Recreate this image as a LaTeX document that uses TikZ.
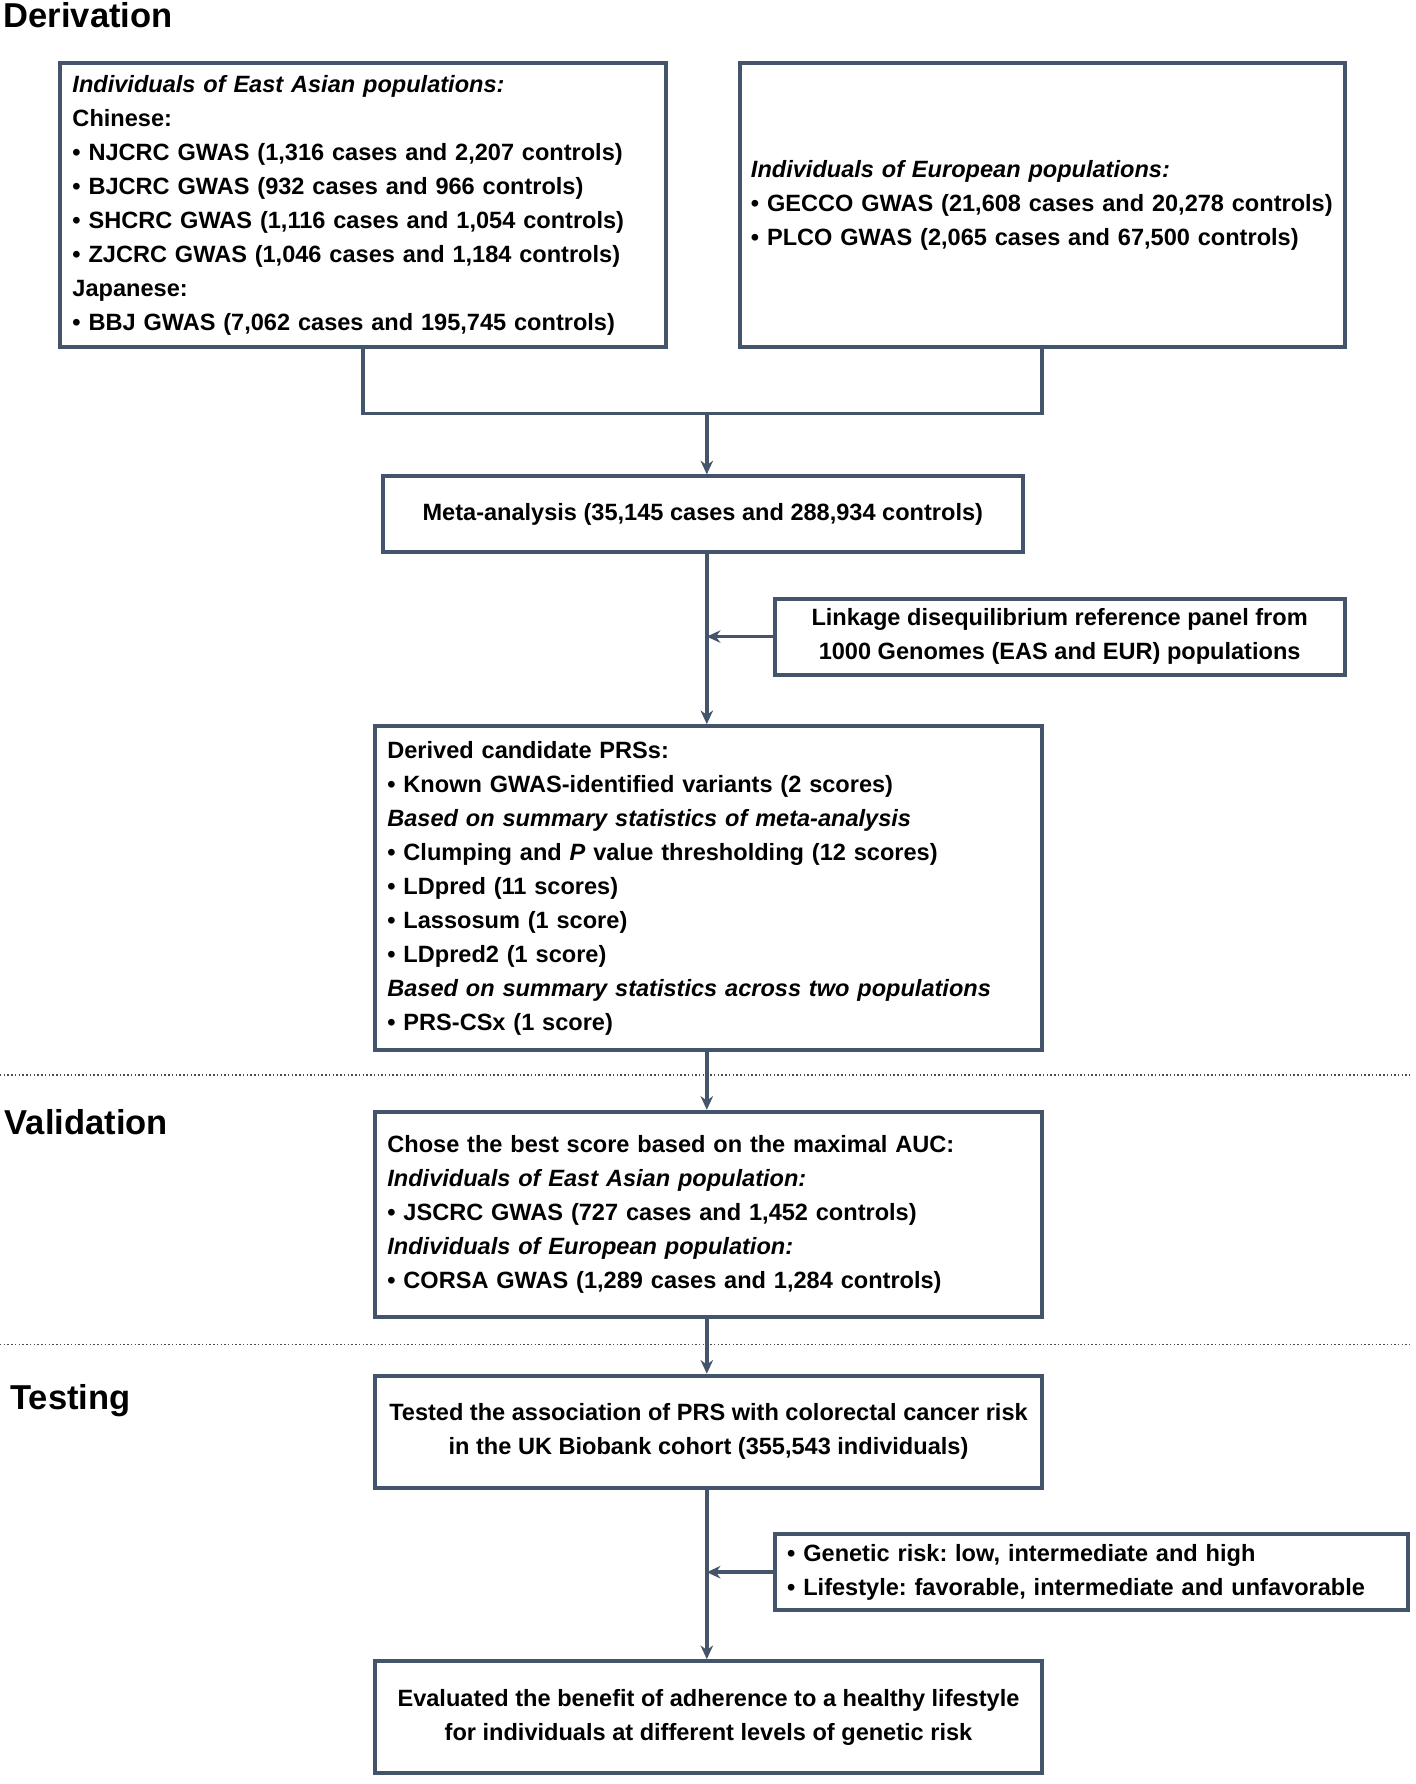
\documentclass[tikz,border=0pt]{standalone}
\usepackage{fontspec}
\setmainfont{Liberation Sans}
\usetikzlibrary{arrows.meta}
\definecolor{lc}{HTML}{44546A}
\frenchspacing
\begin{document}
\begin{tikzpicture}[x=1pt,y=-1pt,
  boxtxt/.style={font=\fontsize{20.8}{30}\selectfont\bfseries},
  box/.style={boxtxt, draw=lc, line width=3.5pt, fill=white, inner ysep=0pt},
  lbox/.style={box, align=left},
  cbox/.style={box, align=center},
  arr/.style={draw=lc, line width=3.2pt, -{Stealth[length=12pt,width=11pt]}},
  conn/.style={draw=lc, line width=3.2pt},
  sepline/.style={draw=black!70, dotted, line width=1.3pt},
  sectitle/.style={font=\fontsize{30.5}{36}\selectfont\bfseries, anchor=base west, inner sep=0pt}
]
\useasboundingbox (0,0) rectangle (1250,1575);
\fill[white] (0,0) rectangle (1250,1575);

% section titles
\node[sectitle] (tder) at (3,24) {Derivation};
\node[sectitle] (tval) at (4,1002) {Validation};
\node[sectitle] (ttest) at (9,1244) {Testing};

% separators
\draw[sepline] (0,949) -- (1245,949);
\draw[sepline] (0,1187) -- (1245,1187);

% boxes
\node[lbox, minimum width=535pt, minimum height=250pt, text width=513pt, inner xsep=11pt] (eas) at (320.5,181) {%
\textit{Individuals of East Asian populations:}\\
Chinese:\\
• NJCRC GWAS (1,316 cases and 2,207 controls)\\
• BJCRC GWAS (932 cases and 966 controls)\\
• SHCRC GWAS (1,116 cases and 1,054 controls)\\
• ZJCRC GWAS (1,046 cases and 1,184 controls)\\
Japanese:\\
• BBJ GWAS (7,062 cases and 195,745 controls)};

\node[lbox, minimum width=534pt, minimum height=250pt, text width=514pt, inner xsep=10pt] (eur) at (920,181) {%
\textit{Individuals of European populations:}\\
• GECCO GWAS (21,608 cases and 20,278 controls)\\
• PLCO GWAS (2,065 cases and 67,500 controls)};

\node[cbox, minimum width=565pt, minimum height=67pt] (meta) at (620.5,454) {Meta-analysis (35,145 cases and 288,934 controls)};

\node[cbox, minimum width=503pt, minimum height=67pt] (ld) at (935.5,562) {Linkage disequilibrium reference panel from\\1000 Genomes (EAS and EUR) populations};

\node[lbox, minimum width=589pt, minimum height=286pt, text width=567pt, inner xsep=11pt] (prs) at (625.5,784) {%
Derived candidate PRSs:\\
• Known GWAS-identified variants (2 scores)\\
\textit{Based on summary statistics of meta-analysis}\\
• Clumping and \textit{P} value thresholding (12 scores)\\
• LDpred (11 scores)\\
• Lassosum (1 score)\\
• LDpred2 (1 score)\\
\textit{Based on summary statistics across two populations}\\
• PRS-CSx (1 score)};

\node[lbox, minimum width=589pt, minimum height=181pt, text width=567pt, inner xsep=11pt] (val) at (625.5,1072) {%
Chose the best score based on the maximal AUC:\\
\textit{Individuals of East Asian population:}\\
• JSCRC GWAS (727 cases and 1,452 controls)\\
\textit{Individuals of European population:}\\
• CORSA GWAS (1,289 cases and 1,284 controls)};

\node[cbox, minimum width=589pt, minimum height=99pt] (test) at (625.5,1264) {Tested the association of PRS with colorectal cancer risk\\in the UK Biobank cohort (355,543 individuals)};

\node[lbox, minimum width=559pt, minimum height=67pt, text width=537pt, inner xsep=11pt] (life) at (963.5,1388) {%
• Genetic risk: low, intermediate and high\\
• Lifestyle: favorable, intermediate and unfavorable};

\node[cbox, minimum width=589pt, minimum height=99pt] (eval) at (625.5,1516) {Evaluated the benefit of adherence to a healthy lifestyle\\for individuals at different levels of genetic risk};

% connectors
\coordinate (j) at (624,365);
\draw[conn] (eas.south) |- (j) -| (eur.south);
\draw[arr] (j) -- (meta.north -| j);
\draw[arr] (meta.south -| j) -- (prs.north -| j);
\draw[arr] (ld.west) -- (ld.west -| j);
\draw[arr] (prs.south -| j) -- (val.north -| j);
\draw[arr] (val.south -| j) -- (test.north -| j);
\draw[arr] (test.south -| j) -- (eval.north -| j);
\draw[arr] (life.west) -- (life.west -| j);
\end{tikzpicture}
\end{document}
